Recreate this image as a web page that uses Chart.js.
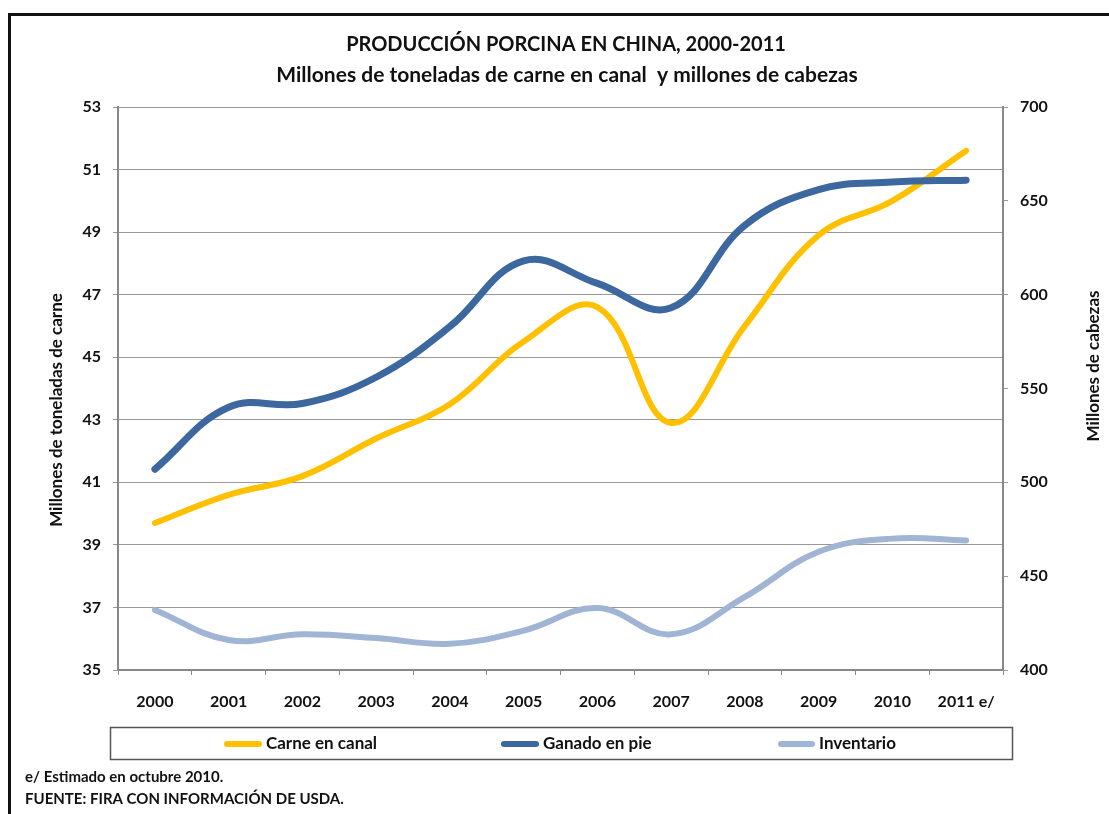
<!DOCTYPE html>
<html>
<head>
<meta charset="utf-8">
<script src="https://cdn.jsdelivr.net/npm/chart.js@4"></script>
<style>
    body { margin: 0; background: #fff; overflow: hidden; }
    #marco { position: absolute; left: 8px; top: 13px; width: 1200px; height: 900px; border: 3px solid #111; }
    #caja { position: absolute; left: 0; top: 0; width: 1109px; height: 814px; }
</style>
</head>
<body>
<div id="marco"></div>
<div id="caja"><canvas id="porcinoChart"></canvas></div>
<script>
const anios = ['2000', '2001', '2002', '2003', '2004', '2005', '2006', '2007', '2008', '2009', '2010', '2011 e/'];
const carneEnCanal = [39.7, 40.6, 41.2, 42.4, 43.5, 45.5, 46.6, 42.9, 46.0, 48.9, 50.0, 51.6];
const ganadoEnPie = [507, 540, 542, 556, 583, 618, 606, 593, 637, 656, 660, 661];
const inventario = [432, 416, 419, 417, 414, 421, 433, 419, 439, 463, 470, 469];
const ticksCarne = [35, 37, 39, 41, 43, 45, 47, 49, 51, 53];
const ticksCabezas = [400, 450, 500, 550, 600, 650, 700];

const fuente = 'Lato, "Open Sans", sans-serif';

// titulos, leyenda y notas
const textosPlugin = {
    id: 'textos',
    afterDraw(chart) {
        const ctx = chart.ctx;
        ctx.save();
        ctx.fillStyle = '#111';
        ctx.textAlign = 'center';
        ctx.textBaseline = 'middle';
        ctx.font = 'bold 20px ' + fuente;
        ctx.fillText('PRODUCCIÓN PORCINA EN CHINA, 2000-2011', 566, 45);
        ctx.font = 'bold 21px ' + fuente;
        ctx.fillText('Millones de toneladas de carne en canal  y millones de cabezas', 567, 75);

        ctx.font = 'bold 17px ' + fuente;
        ctx.save();
        ctx.translate(57, 410);
        ctx.rotate(-Math.PI / 2);
        ctx.fillText('Millones de toneladas de carne', 0, 0);
        ctx.restore();
        ctx.save();
        ctx.translate(1094, 366);
        ctx.rotate(-Math.PI / 2);
        ctx.fillText('Millones de cabezas', 0, 0);
        ctx.restore();

        // leyenda
        ctx.strokeStyle = '#555';
        ctx.lineWidth = 1.5;
        ctx.strokeRect(110.5, 727.5, 902, 32);
        const posiciones = [[224, 262], [501, 539], [778, 815]];
        ctx.textAlign = 'left';
        ctx.font = 'bold 17px ' + fuente;
        chart.data.datasets.forEach(function (ds, i) {
            const p = posiciones[i];
            ctx.strokeStyle = ds.borderColor;
            ctx.lineWidth = 6;
            ctx.lineCap = 'round';
            ctx.beginPath();
            ctx.moveTo(p[0] + 3, 744);
            ctx.lineTo(p[1] - 3, 744);
            ctx.stroke();
            ctx.fillStyle = '#111';
            ctx.fillText(ds.label, p[1] + 4, 744);
        });

        ctx.font = 'bold 15px ' + fuente;
        ctx.fillText('e/ Estimado en octubre 2010.', 25, 777);
        ctx.fillText('FUENTE: FIRA CON INFORMACIÓN DE USDA.', 25, 799);
        ctx.restore();
    }
};

new Chart(document.getElementById('porcinoChart'), {
    type: 'line',
    data: {
        labels: anios,
        datasets: [{
                label: 'Carne en canal',
                data: carneEnCanal,
                yAxisID: 'y',
                borderColor: '#FFC000',
                borderWidth: 6,
                order: 3
            }, {
                label: 'Ganado en pie',
                data: ganadoEnPie,
                yAxisID: 'y1',
                borderColor: '#3D679F',
                borderWidth: 7,
                order: 2
            }, {
                label: 'Inventario',
                data: inventario,
                yAxisID: 'y1',
                borderColor: '#A0B4D4',
                borderWidth: 6,
                order: 1
            }]
    },
    options: {
        responsive: true,
        maintainAspectRatio: false,
        animation: false,
        datasets: {
            line: {
                tension: 0.4,
                pointRadius: 0,
                borderCapStyle: 'round',
                borderJoinStyle: 'round',
                fill: false
            }
        },
        layout: {
            padding: {top: 107, bottom: 94, left: 0, right: 0}
        },
        plugins: {
            legend: {display: false},
            title: {display: false},
            tooltip: {enabled: false}
        },
        scales: {
            x: {
                offset: true,
                grid: {drawOnChartArea: false, drawTicks: true, tickLength: 5, color: '#888', offset: true},
                border: {color: '#888', width: 2},
                ticks: {color: '#111', padding: 17, font: {family: fuente, size: 16, weight: 'bold'}},
                afterFit: function (scale) { scale.height = 50; }
            },
            y: {
                position: 'left',
                min: 35,
                max: 53,
                afterBuildTicks: function (scale) { scale.ticks = ticksCarne.map(v => ({value: v})); },
                grid: {color: '#999', lineWidth: 1, tickLength: 5},
                border: {color: '#888', width: 2},
                ticks: {color: '#111', padding: 12, font: {family: fuente, size: 16, weight: 'bold'}},
                afterFit: function (scale) { scale.width = 118; }
            },
            y1: {
                position: 'right',
                min: 400,
                max: 700,
                afterBuildTicks: function (scale) { scale.ticks = ticksCabezas.map(v => ({value: v})); },
                grid: {drawOnChartArea: false, color: '#999', tickLength: 5},
                border: {color: '#888', width: 2},
                ticks: {color: '#111', padding: 12, font: {family: fuente, size: 16, weight: 'bold'}},
                afterFit: function (scale) { scale.width = 106; }
            }
        }
    },
    plugins: [textosPlugin]
});
</script>
</body>
</html>
